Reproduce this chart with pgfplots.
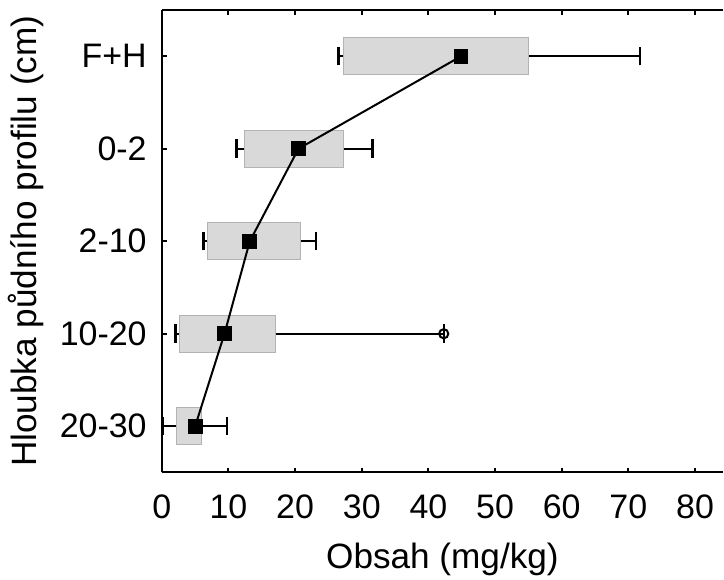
\documentclass[border=0pt]{standalone}
\usepackage{fontspec}
\setmainfont{Liberation Sans}
\usepackage{pgfplots}
\pgfplotsset{compat=1.18}
\usepgfplotslibrary{statistics}

\definecolor{boxfill}{HTML}{D9D9D9}
\definecolor{boxedge}{HTML}{B3B3B3}

\begin{document}
\begin{tikzpicture}
\begin{axis}[
    scale only axis,
    width=280.9pt, height=231.5pt,
    xmin=0, xmax=84.2, ymin=-0.5, ymax=4.5,
    axis x line*=box, axis y line*=left,
    axis line style={-, line width=1pt},
    xtick={0,10,...,80},
    ytick={0,1,2,3,4},
    yticklabels={20-30,10-20,2-10,0-2,F+H},
    xtick pos=both, ytick pos=left,
    tick align=inside,
    major tick length=2.5pt,
    tick style={black, line width=1pt},
    tick label style={font=\fontsize{17}{20}\selectfont, inner sep=0pt},
    /pgf/number format/assume math mode=true,
    xticklabel shift=11.2pt, yticklabel shift=7.4pt,
    xlabel={Obsah (mg/kg)},
    ylabel={Hloubka půdního profilu (cm)},
    label style={font=\fontsize{17.6}{20}\selectfont, inner sep=0pt},
    xlabel style={at={(axis description cs:0.5,-0.2073)}, anchor=base},
    ylabel style={at={(axis description cs:-0.2236,0.5)}, anchor=base},
    boxplot/draw direction=x,
    boxplot/every box/.style={draw=boxedge, fill=boxfill, line width=0.5pt},
    boxplot/every whisker/.style={black, line width=1.1pt},
    boxplot/every median/.style={draw=none},
]
% boxes: F+H, 0-2, 2-10, 10-20, 20-30
\addplot[boxplot prepared={lower whisker=26.5, lower quartile=27.2, median=44.9,
    upper quartile=55.0, upper whisker=71.8, draw position=4,
    box extend=0.4, whisker extend=0.2}] coordinates {};
\addplot[boxplot prepared={lower whisker=11.2, lower quartile=12.4, median=20.5,
    upper quartile=27.3, upper whisker=31.6, draw position=3,
    box extend=0.4, whisker extend=0.2}] coordinates {};
\addplot[boxplot prepared={lower whisker=6.25, lower quartile=6.85, median=13.2,
    upper quartile=20.8, upper whisker=23.1, draw position=2,
    box extend=0.4, whisker extend=0.2}] coordinates {};
\addplot[boxplot prepared={lower whisker=2.05, lower quartile=2.65, median=9.4,
    upper quartile=17.1, upper whisker=42.3, draw position=1,
    box extend=0.4, whisker extend=0.2}] coordinates {};
\addplot[boxplot prepared={lower whisker=0.15, lower quartile=2.15, median=5.0,
    upper quartile=6.0, upper whisker=9.75, draw position=0,
    box extend=0.4, whisker extend=0.2}] coordinates {};
% outlier
\addplot[only marks, mark=o, mark size=2.3pt, line width=1pt, black]
    coordinates {(42.3,1)};
% medians
\addplot[black, line width=1pt, mark=square*, mark size=3.2pt, mark options={solid}]
    coordinates {(44.9,4) (20.5,3) (13.2,2) (9.4,1) (5.0,0)};
\end{axis}
\path ([yshift=5pt]current axis.north west);
\path ([xshift=-81pt,yshift=-53.5pt]current axis.south west);
\end{tikzpicture}
\end{document}
